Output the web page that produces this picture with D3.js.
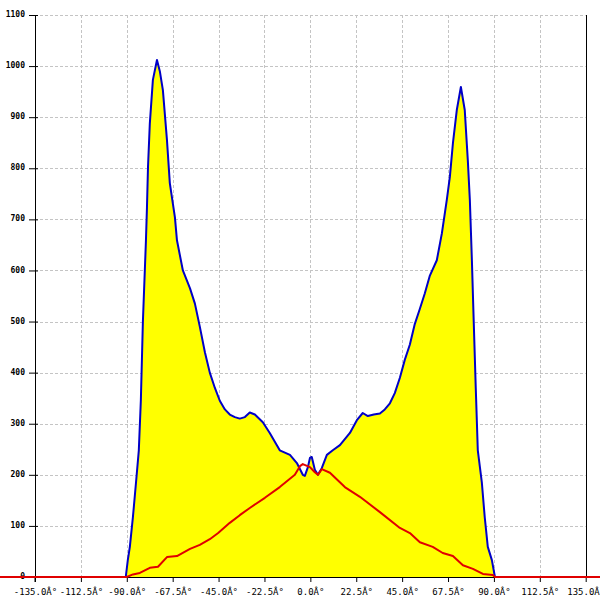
<!DOCTYPE html>
<html>
<head>
<meta charset="utf-8">
<script src="https://cdn.jsdelivr.net/npm/d3@7/dist/d3.min.js"></script>
<style>
html,body{margin:0;padding:0;background:#fff;}
svg{display:block;}
</style>
</head>
<body>
<svg id="chart" width="600" height="600"></svg>
<script>
// Tick labels
const xTicks = [-135, -112.5, -90, -67.5, -45, -22.5, 0, 22.5, 45, 67.5, 90, 112.5, 135];
const yTicks = [0, 100, 200, 300, 400, 500, 600, 700, 800, 900, 1000, 1100];

// Blue series (angle in degrees, value)
const blueAngles = [-90.5, -89.5, -88.5, -87, -85.5, -84.1, -83.1, -82.1, -80.6, -80.1, -79.6, -78.7, -77.2, -75.2,
  -73.8, -72.3, -70.3, -68.9, -66.4, -65.4, -62.5, -59.0, -56.6, -54.2, -51.7, -49.3, -46.8, -44.4, -41.9, -39.5,
  -37.0, -34.6, -32.1, -29.7, -27.2, -23.3, -19.9, -15.0, -10.0, -6.6, -3.7, -2.7, -1.2, -0.2, 0.7, 2.2, 3.7, 5.6,
  8.1, 11.0, 14.5, 19.4, 22.8, 25.7, 28.2, 31.1, 34.1, 36.5, 39.0, 41.4, 43.9, 46.3, 48.8, 51.2, 53.7, 56.1, 58.6,
  62.0, 64.5, 66.9, 68.4, 69.9, 71.8, 73.8, 75.7, 77.2, 78.2, 79.2, 80.1, 81.1, 82.1, 84.1, 85.5, 87.0, 89.0, 90.5];
const blueValues = [0, 33, 59, 117, 184, 248, 346, 500, 659, 724, 802, 888, 973, 1012,
  990, 953, 855, 771, 704, 659, 600, 565, 535, 490, 440, 400, 370, 345, 328, 318,
  313, 310, 313, 322, 318, 303, 282, 248, 239, 223, 200, 198, 215, 233, 235, 210, 200, 213,
  239, 248, 258, 282, 307, 321, 315, 318, 320, 328, 340, 360, 390, 425, 455, 495, 525, 555, 590,
  620, 673, 738, 783, 849, 914, 959, 914, 816, 738, 620, 500, 370, 248, 184, 117, 59, 33, 0];

// Red series (angle in degrees, value)
const redAngles = [-180, -90, -87.0, -83.6, -78.7, -74.7, -70.3, -65.4, -59.0, -54.2, -49.3, -45.2, -39.5, -34.6,
  -29.7, -22.3, -15.0, -7.6, -5.1, -3.7, -0.2, 2.2, 3.7, 5.6, 9.6, 16.9, 24.3, 34.1, 43.9, 48.8, 53.7, 60.0,
  64.9, 69.9, 74.8, 79.7, 84.6, 89.5, 90.5, 180];
const redValues = [0, 0, 5, 8, 18, 20, 39, 41, 55, 63, 74, 86, 106, 121,
  135, 155, 176, 200, 217, 221, 215, 205, 200, 211, 204, 176, 157, 127, 96, 86, 68, 59,
  47, 41, 23, 16, 6, 4, 0, 0];

const svg = d3.select("#chart");
const x = d3.scaleLinear().domain([-135, 135]).range([35, 585.7]);
const y = d3.scaleLinear().domain([0, 1100]).range([577, 15]);

const bluePts = blueAngles.map((a, i) => [a, blueValues[i]]);
const redPts = redAngles.map((a, i) => [a, redValues[i]]);

// Grid
const grid = svg.append("g").attr("stroke", "#c4c4c4").attr("stroke-width", 1).attr("stroke-dasharray", "3,2");
grid.selectAll(".vg").data(xTicks).enter().append("line")
  .attr("x1", d => Math.round(x(d)) + 0.5).attr("x2", d => Math.round(x(d)) + 0.5)
  .attr("y1", y(1100)).attr("y2", y(0));
grid.selectAll(".hg").data(yTicks).enter().append("line")
  .attr("x1", x(-135)).attr("x2", x(135))
  .attr("y1", d => Math.round(y(d)) + 0.5).attr("y2", d => Math.round(y(d)) + 0.5);

// Area under blue
const area = d3.area().x(d => x(d[0])).y0(y(0)).y1(d => y(d[1]));
svg.append("path").datum(bluePts).attr("d", area).attr("fill", "#ffff00");

// Right border
svg.append("line").attr("x1", Math.round(x(135)) + 0.5).attr("x2", Math.round(x(135)) + 0.5)
  .attr("y1", y(1100)).attr("y2", y(0)).attr("stroke", "#000");

// Axes
const xAxis = d3.axisBottom(x).tickValues(xTicks).tickSize(5).tickSizeOuter(0)
  .tickFormat(d => d.toFixed(1) + "Â°");
const gx = svg.append("g").attr("transform", `translate(0,${y(0)})`).call(xAxis);
gx.select(".domain").attr("stroke", "#000");
gx.selectAll(".tick line").attr("stroke", "#000");
gx.selectAll(".tick text").attr("font-family", "DejaVu Sans Mono, monospace").attr("font-size", "9px")
  .attr("fill", "#000").attr("dy", "0").attr("y", 18);

const yAxis = d3.axisLeft(y).tickValues(yTicks).tickSize(6).tickSizeOuter(0).tickFormat(d => String(d));
const gy = svg.append("g").attr("transform", `translate(${x(-135)},0)`).call(yAxis);
gy.select(".domain").attr("stroke", "#000");
gy.selectAll(".tick line").attr("stroke", "#000").attr("x2", 3).attr("x1", -6);
gy.selectAll(".tick text").attr("font-family", "DejaVu Sans Mono, monospace").attr("font-size", "8px")
  .attr("font-weight", "bold").attr("fill", "#000").attr("x", -10).attr("dy", "0.2em");
// extend y axis down past the baseline like the reference
svg.append("line").attr("x1", x(-135)).attr("x2", x(-135)).attr("y1", y(0)).attr("y2", y(0) + 5).attr("stroke", "#000");

// Lines
const line = d3.line().x(d => x(d[0])).y(d => y(d[1]));
svg.append("path").datum(bluePts).attr("d", line).attr("fill", "none")
  .attr("stroke", "#0000c8").attr("stroke-width", 2).attr("stroke-linejoin", "round");
svg.append("path").datum(redPts).attr("d", line).attr("fill", "none")
  .attr("stroke", "#e00000").attr("stroke-width", 2).attr("stroke-linejoin", "round");
</script>
</body>
</html>
